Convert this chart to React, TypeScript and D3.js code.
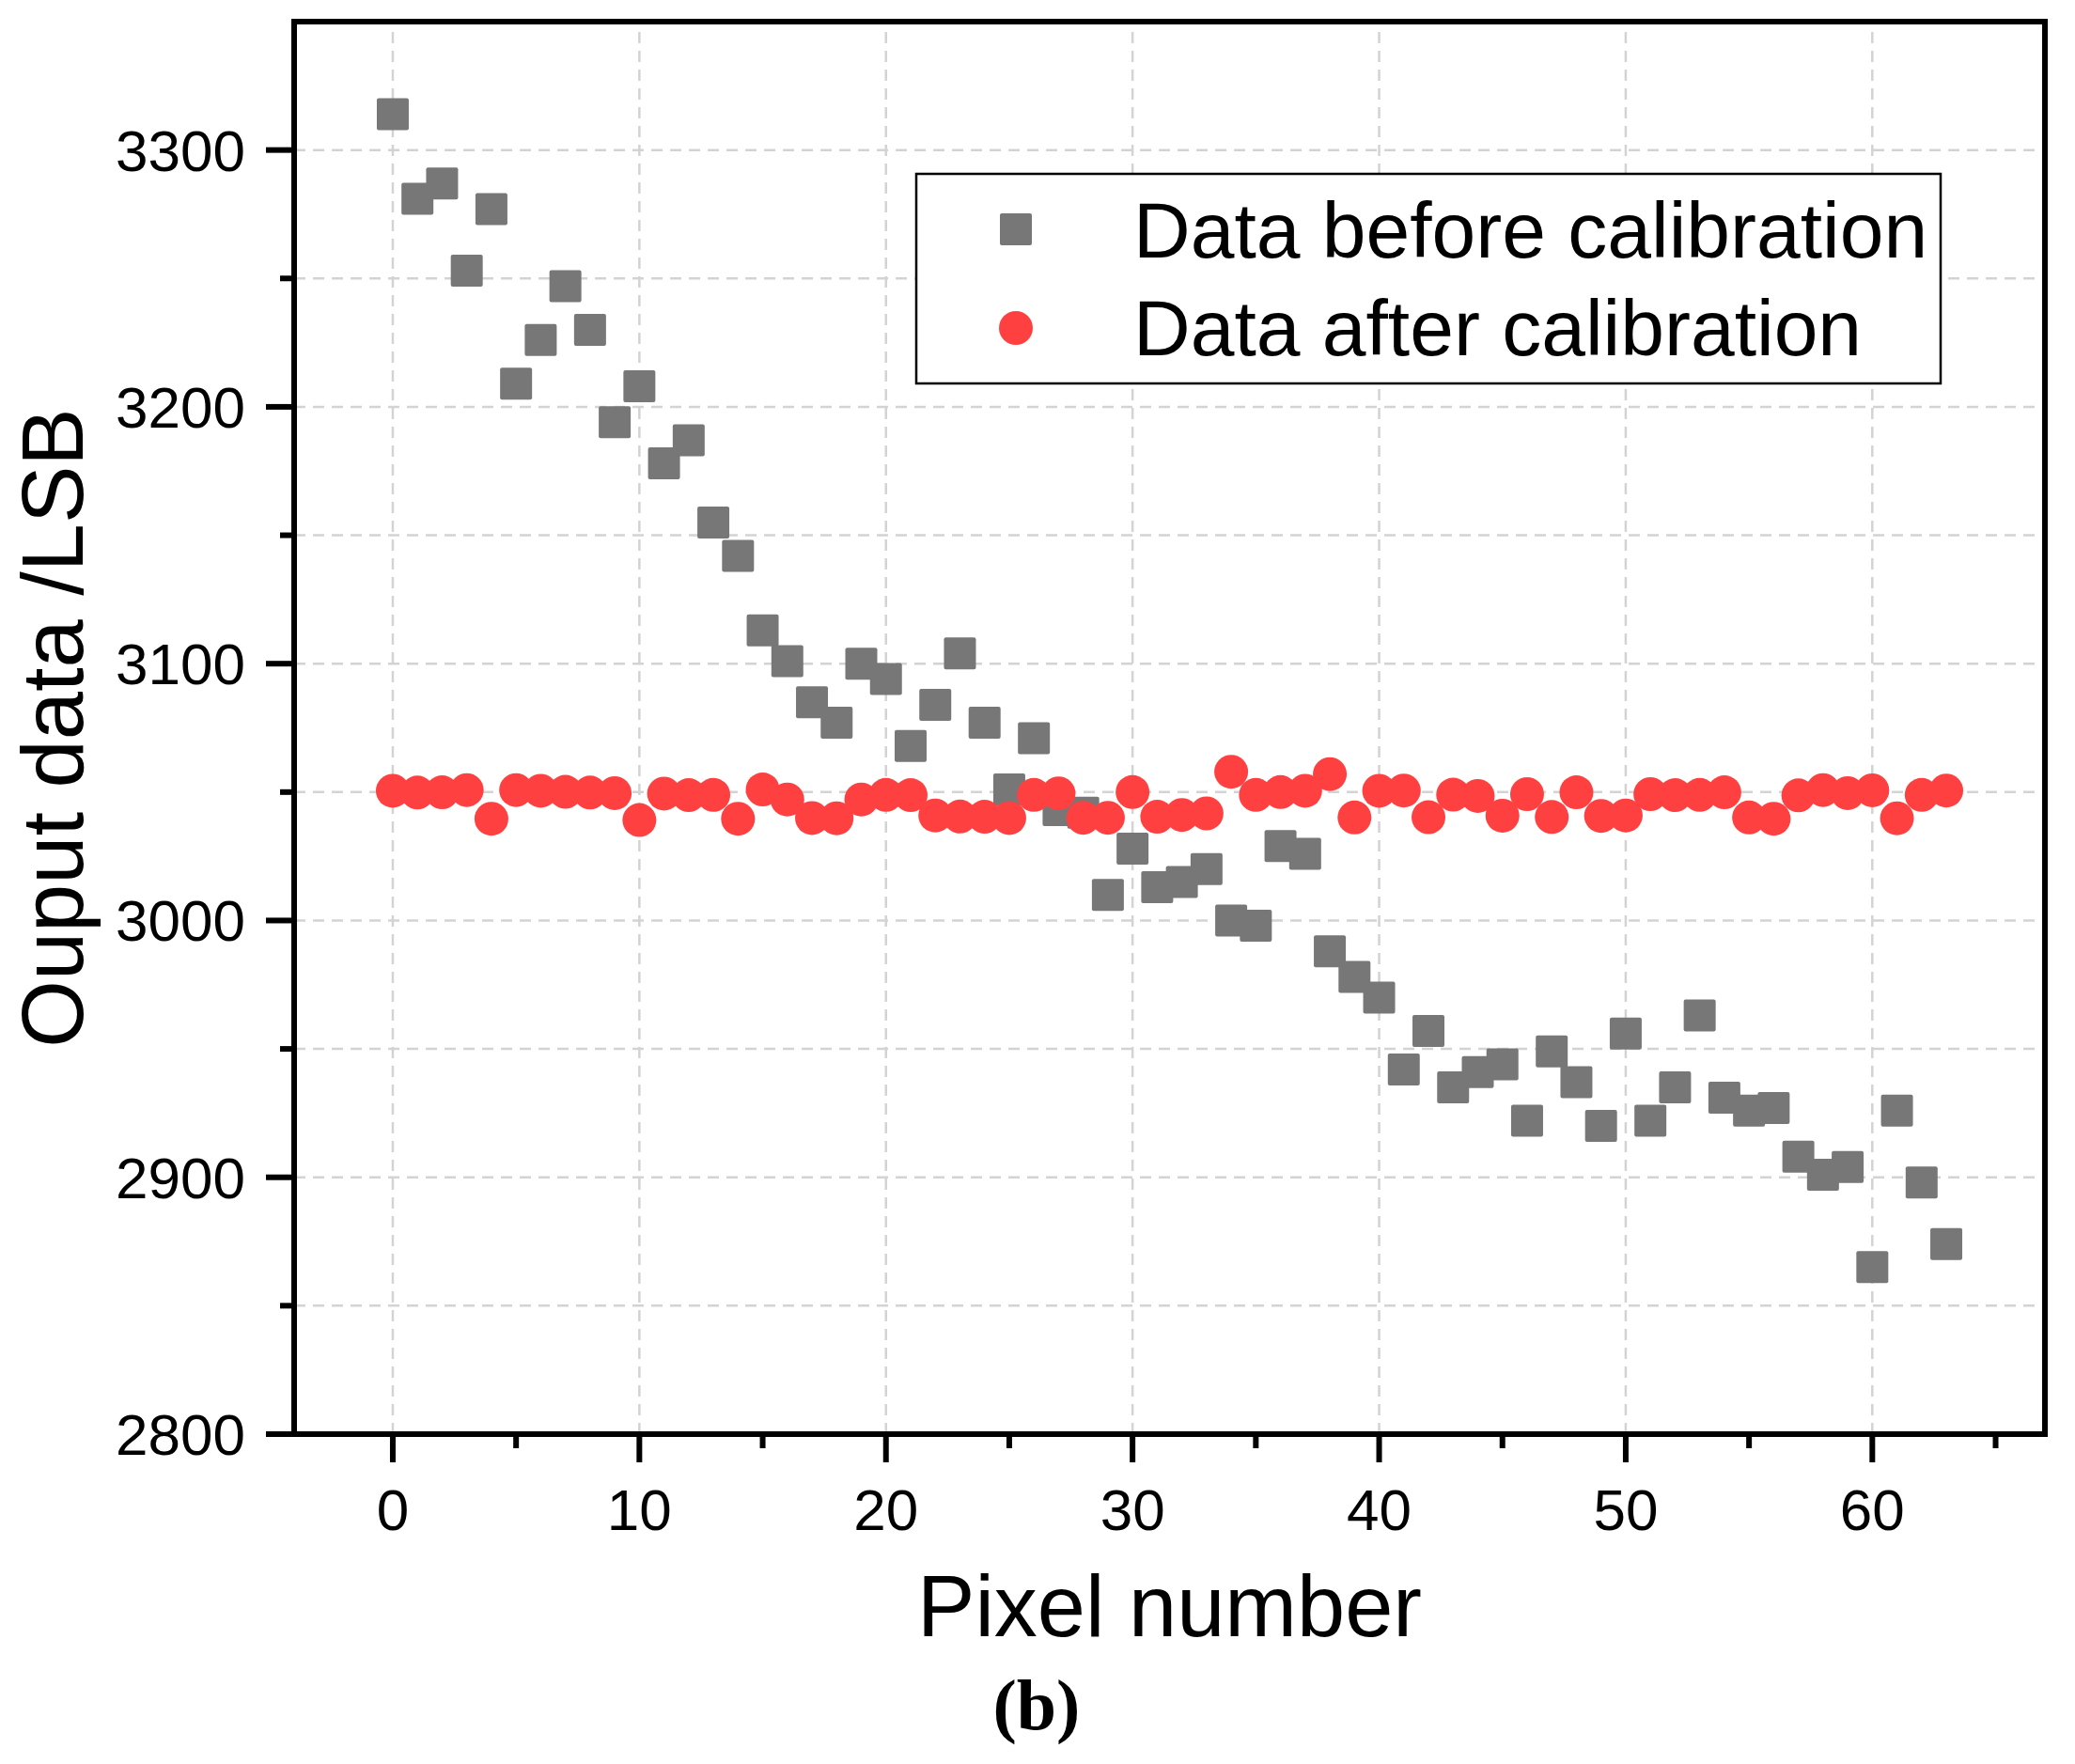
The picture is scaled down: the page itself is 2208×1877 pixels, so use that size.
import React from "react";
import * as d3 from "d3";

const pixels: number[] = Array.from({ length: 64 }, (_, i) => i);

const beforeCal: number[] = [
  3314, 3281, 3287, 3253, 3277, 3209, 3226, 3247, 3230, 3194,
  3208, 3178, 3187, 3155, 3142, 3113, 3101, 3085, 3077, 3100,
  3094, 3068, 3084, 3104, 3077, 3051, 3071, 3043, 3042, 3010,
  3028, 3013, 3015, 3020, 3000, 2998, 3029, 3026, 2988, 2978,
  2970, 2942, 2957, 2935, 2941, 2944, 2922, 2949, 2937, 2920,
  2956, 2922, 2935, 2963, 2931, 2926, 2927, 2908, 2901, 2904,
  2865, 2926, 2898, 2874,
];

const afterCal: number[] = [
  3050.5, 3049.8, 3049.9, 3050.8, 3039.6, 3050.8, 3050.5, 3050.1, 3049.8, 3049.6,
  3039.1, 3049.4, 3048.8, 3048.9, 3039.6, 3051.0, 3047.1, 3039.9, 3039.8, 3047.1,
  3048.9, 3048.8, 3040.9, 3040.5, 3040.4, 3039.9, 3048.9, 3049.5, 3040.0, 3040.0,
  3050.0, 3040.4, 3041.1, 3041.7, 3057.9, 3048.9, 3050.0, 3050.5, 3057.0, 3040.1,
  3050.5, 3050.6, 3040.2, 3049.0, 3048.5, 3040.8, 3049.2, 3040.3, 3049.9, 3040.7,
  3040.9, 3049.2, 3048.8, 3048.9, 3049.9, 3040.1, 3039.6, 3048.7, 3050.8, 3049.6,
  3050.7, 3039.8, 3048.9, 3050.6,
];

const xMajorTicks: number[] = [0, 10, 20, 30, 40, 50, 60];
const xMinorTicks: number[] = [5, 15, 25, 35, 45, 55, 65];
const yMajorTicks: number[] = [2800, 2900, 3000, 3100, 3200, 3300];
const yMinorTicks: number[] = [2850, 2950, 3050, 3150, 3250];
const yGridTicks: number[] = [2850, 2900, 2950, 3000, 3050, 3100, 3150, 3200, 3250, 3300];

const seriesNames: string[] = ["Data before calibration", "Data after calibration"];
const xTitle = "Pixel number";
const yTitle = "Ouput data /LSB";
const panelLabel = "(b)";

const W = 2208;
const H = 1877;
const left = 313;
const right = 2176;
const top = 23;
const bottom = 1526;

const SANS = "'Liberation Sans', Arial, Helvetica, sans-serif";
const SERIF = "'Liberation Serif', 'Times New Roman', serif";
const GREY = "#777777";
const RED = "#ff4040";
const GRID = "#d3d3d3";

export default function App() {
  const x = d3.scaleLinear().domain([-4, 67]).range([left, right]);
  const y = d3.scaleLinear().domain([2800, 3350]).range([bottom, top]);
  const sq = 34;
  const r = 18;
  const axisW = 6;

  return (
    <svg
      width={W}
      height={H}
      viewBox={`0 0 ${W} ${H}`}
      style={{ position: "absolute", left: 0, top: 0, background: "#fff" }}
    >
      <rect x={0} y={0} width={W} height={H} fill="#fff" />
      {/* grid */}
      <g stroke={GRID} strokeWidth={2.5} strokeDasharray="12 8" fill="none">
        {xMajorTicks.map((t) => (
          <line key={"gx" + t} x1={x(t)} x2={x(t)} y1={bottom} y2={top} />
        ))}
        {yGridTicks.map((t) => (
          <line key={"gy" + t} x1={left} x2={right} y1={y(t)} y2={y(t)} />
        ))}
      </g>

      {/* before calibration squares */}
      <g fill={GREY}>
        {pixels.map((p, i) => (
          <rect
            key={"b" + p}
            x={x(p) - sq / 2}
            y={y(beforeCal[i]) - sq / 2}
            width={sq}
            height={sq}
            rx={2}
          />
        ))}
      </g>
      {/* after calibration circles */}
      <g fill={RED}>
        {pixels.map((p, i) => (
          <circle key={"a" + p} cx={x(p)} cy={y(afterCal[i])} r={r} />
        ))}
      </g>

      {/* frame */}
      <rect
        x={left}
        y={top}
        width={right - left}
        height={bottom - top}
        fill="none"
        stroke="#000"
        strokeWidth={axisW}
      />

      {/* x ticks */}
      <g stroke="#000" strokeWidth={axisW}>
        {xMajorTicks.map((t) => (
          <line key={"xt" + t} x1={x(t)} x2={x(t)} y1={bottom} y2={bottom + 30} />
        ))}
        {xMinorTicks.map((t) => (
          <line key={"xm" + t} x1={x(t)} x2={x(t)} y1={bottom} y2={bottom + 15} />
        ))}
        {yMajorTicks.map((t) => (
          <line key={"yt" + t} x1={left - 30} x2={left} y1={y(t)} y2={y(t)} />
        ))}
        {yMinorTicks.map((t) => (
          <line key={"ym" + t} x1={left - 15} x2={left} y1={y(t)} y2={y(t)} />
        ))}
      </g>

      {/* tick labels */}
      <g fontFamily={SANS} fontSize={62} fill="#000">
        {xMajorTicks.map((t) => (
          <text key={"xl" + t} x={x(t)} y={1628} textAnchor="middle">
            {t}
          </text>
        ))}
        {yMajorTicks.map((t) => (
          <text key={"yl" + t} x={261} y={y(t) + 22} textAnchor="end">
            {t}
          </text>
        ))}
      </g>

      {/* axis titles */}
      <text
        x={(left + right) / 2}
        y={1741}
        textAnchor="middle"
        fontFamily={SANS}
        fontSize={92}
        fill="#000"
      >
        {xTitle}
      </text>
      <text
        transform={`translate(88, ${(top + bottom) / 2}) rotate(-90)`}
        textAnchor="middle"
        fontFamily={SANS}
        fontSize={92}
        fill="#000"
      >
        {yTitle}
      </text>
      <text
        x={1103}
        y={1840}
        textAnchor="middle"
        fontFamily={SERIF}
        fontWeight="bold"
        fontSize={76}
        fill="#000"
      >
        {panelLabel}
      </text>

      {/* legend */}
      <rect x={975} y={185} width={1090} height={223} fill="#fff" stroke="#000" strokeWidth={2.5} />
      <rect x={1081 - sq / 2} y={244 - sq / 2} width={sq} height={sq} fill={GREY} rx={2} />
      <circle cx={1081} cy={349} r={r} fill={RED} />
      <g fontFamily={SANS} fontSize={84} fill="#000">
        <text x={1206} y={274}>{seriesNames[0]}</text>
        <text x={1206} y={378}>{seriesNames[1]}</text>
      </g>
    </svg>
  );
}
